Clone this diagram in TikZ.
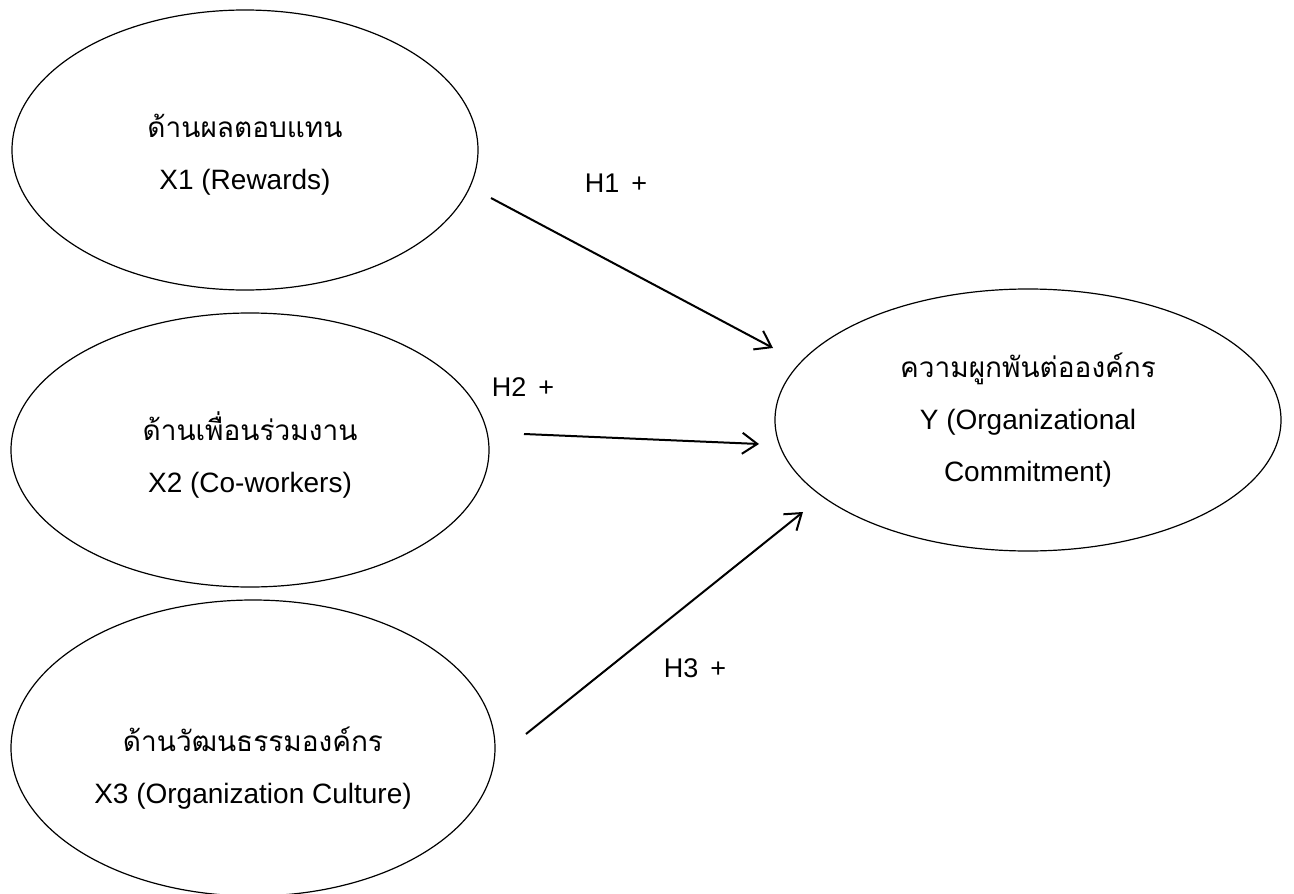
\documentclass[tikz,border=0pt]{standalone}
\usepackage{fontspec}
\setmainfont{Liberation Sans}
\newfontfamily\thaifont[Script=Thai]{Loma}
\usetikzlibrary{shapes.geometric,arrows.meta}
\begin{document}
\begin{tikzpicture}[x=1pt,y=-1pt,
  oval/.style={draw, line width=1.2pt, ellipse, inner sep=0pt},
  lbl/.style={align=center, inner sep=0pt, font=\fontsize{28}{52}\selectfont},
  hyp/.style={inner sep=0pt, font=\fontsize{27}{32}\selectfont},
  link/.style={line width=2pt, -{Straight Barb[length=15pt,width=21pt]}}]
\useasboundingbox (0,0) rectangle (1294,894);
% ellipses
\node[oval, minimum width=466pt, minimum height=280pt] (x1) at (245,150) {};
\node[oval, minimum width=478pt, minimum height=274pt] (x2) at (250,450) {};
\node[oval, minimum width=484pt, minimum height=296pt] (x3) at (253,748) {};
\node[oval, minimum width=506pt, minimum height=262pt] (y)  at (1028,420) {};
% texts
\node[lbl] (t1) at (245,155) {{\thaifont ด้านผลตอบแทน}\\X1 (Rewards)};
\node[lbl] (t2) at (250,455) {{\thaifont ด้านเพื่อนร่วมงาน}\\X2 (Co-workers)};
\node[lbl] (t3) at (253,768) {{\thaifont ด้านวัฒนธรรมองค์กร}\\X3 (Organization Culture)};
\node[lbl] (ty) at (1028,420) {{\thaifont ความผูกพันต่อองค์กร}\\Y (Organizational\\Commitment)};
% arrow ends
\coordinate (a1s) at (491,198);
\coordinate (a1e) at (773,348);
\coordinate (a2s) at (524,434);
\coordinate (a2e) at (759,444);
\coordinate (a3s) at (526,734);
\coordinate (a3e) at (803,512);
\draw[link] (a1s) -- (a1e);
\draw[link] (a2s) -- (a2e);
\draw[link] (a3s) -- (a3e);
% hypothesis labels
\node[hyp] (h1) at (616,183) {H1\hspace{12pt}+};
\node[hyp] (h2) at (523,387) {H2\hspace{12pt}+};
\node[hyp] (h3) at (695,668) {H3\hspace{12pt}+};
\end{tikzpicture}
\end{document}
